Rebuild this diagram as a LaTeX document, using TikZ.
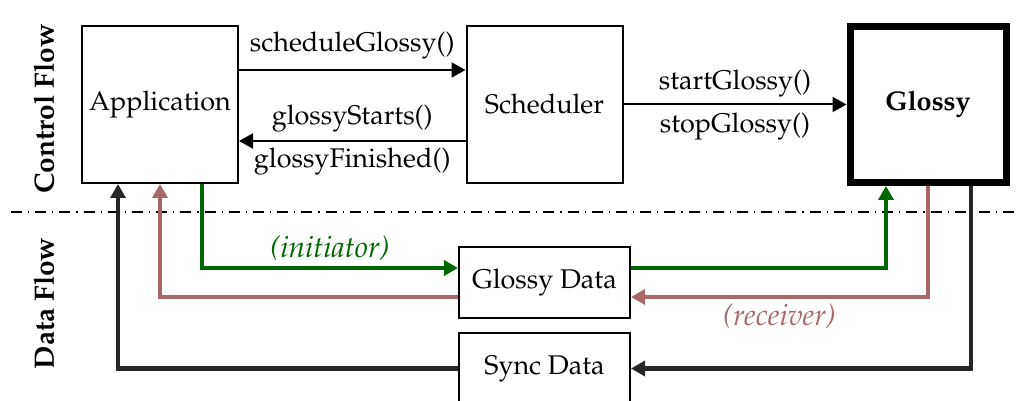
\documentclass[tikz,border=0pt]{standalone}
\usepackage[T1]{fontenc}
\usepackage{mathpazo}
\usetikzlibrary{arrows.meta}

\definecolor{initgreen}{RGB}{0,102,0}
\definecolor{recvred}{RGB}{168,104,104}
\definecolor{syncgray}{RGB}{38,38,38}

\tikzset{
  txt/.style={font=\fontsize{13.5}{16}\selectfont},
  block/.style={txt, draw, line width=1pt, inner sep=0pt,
    minimum width=78pt, minimum height=78.5pt},
  mainblock/.style={block, line width=3.5pt, minimum width=78pt, minimum height=78pt,
    font=\fontsize{13.5}{16}\selectfont\bfseries},
  datablock/.style={txt, draw, line width=1pt, inner sep=0pt,
    minimum width=85.5pt, minimum height=35.5pt},
  ctrl/.style={line width=1pt, -{Triangle[length=7pt,width=7.5pt]}},
  dataflow/.style={line width=2.2pt, -{Triangle[length=7pt,width=7.5pt]}},
  lbl/.style={txt, inner sep=2pt},
  rolelbl/.style={inner sep=2pt, font=\fontsize{14.9}{17}\selectfont\itshape},
  side/.style={font=\fontsize{14}{16}\selectfont\bfseries, rotate=90, inner sep=0pt},
}

\begin{document}
\begin{tikzpicture}[x=0.5pt,y=-0.5pt]
  \clip (0,0) rectangle (1019,401);

  % control-flow blocks
  \node[block] (app) at (160,104.5) {Application};
  \node[block] (sched) at (544.5,104.5) {Scheduler};
  \node[mainblock] (glossy) at (928,104.5) {Glossy};

  % data blocks
  \node[datablock] (gdata) at (544.5,282.5) {Glossy Data};
  \node[datablock] (sdata) at (544.5,368.5) {Sync Data};

  % side captions
  \node[side] (cf) at (44,109) {Control Flow};
  \node[side] (df) at (44,303.5) {Data Flow};

  % separator between control and data flow
  \coordinate (sepL) at (11,212);
  \coordinate (sepR) at (1019,212);
  \draw[line width=0.65pt, dash pattern=on 5.5pt off 3pt on 0.6pt off 3pt] (sepL) -- (sepR);

  % control flow
  \draw[ctrl] ([yshift=17.25pt]app.east) -- node[lbl, above=3pt] (l1) {scheduleGlossy()} ([yshift=17.25pt]sched.west);
  \draw[ctrl] ([yshift=-18.25pt]sched.west) -- node[lbl, above=2pt] (l2) {glossyStarts()}
     node[lbl, below=1pt] (l3) {glossyFinished()} ([yshift=-18.25pt]app.east);
  \draw[ctrl] (sched) -- node[lbl, above=1pt] (l4) {startGlossy()}
     node[lbl, below=1.5pt] (l5) {stopGlossy()} (glossy);

  % data flow: initiator
  \draw[dataflow, initgreen] ([xshift=21pt]app.south) |- node[pos=0.75, rolelbl, above=0.5pt] (l6) {(initiator)} ([yshift=7.25pt]gdata.west);
  \draw[dataflow, initgreen] ([yshift=7.25pt]gdata.east) -| ([xshift=-21pt]glossy.south);

  % data flow: receiver
  \draw[dataflow, recvred] (glossy.south) |- node[pos=0.75, rolelbl, below=0.5pt] (l7) {(receiver)} ([yshift=-7.25pt]gdata.east);
  \draw[dataflow, recvred] ([yshift=-7.25pt]gdata.west) -| (app.south);

  % data flow: synchronisation
  \draw[dataflow, syncgray] ([xshift=21.5pt]glossy.south) |- (sdata.east);
  \draw[dataflow, syncgray] (sdata.west) -| ([xshift=-21pt]app.south);
\end{tikzpicture}
\end{document}
